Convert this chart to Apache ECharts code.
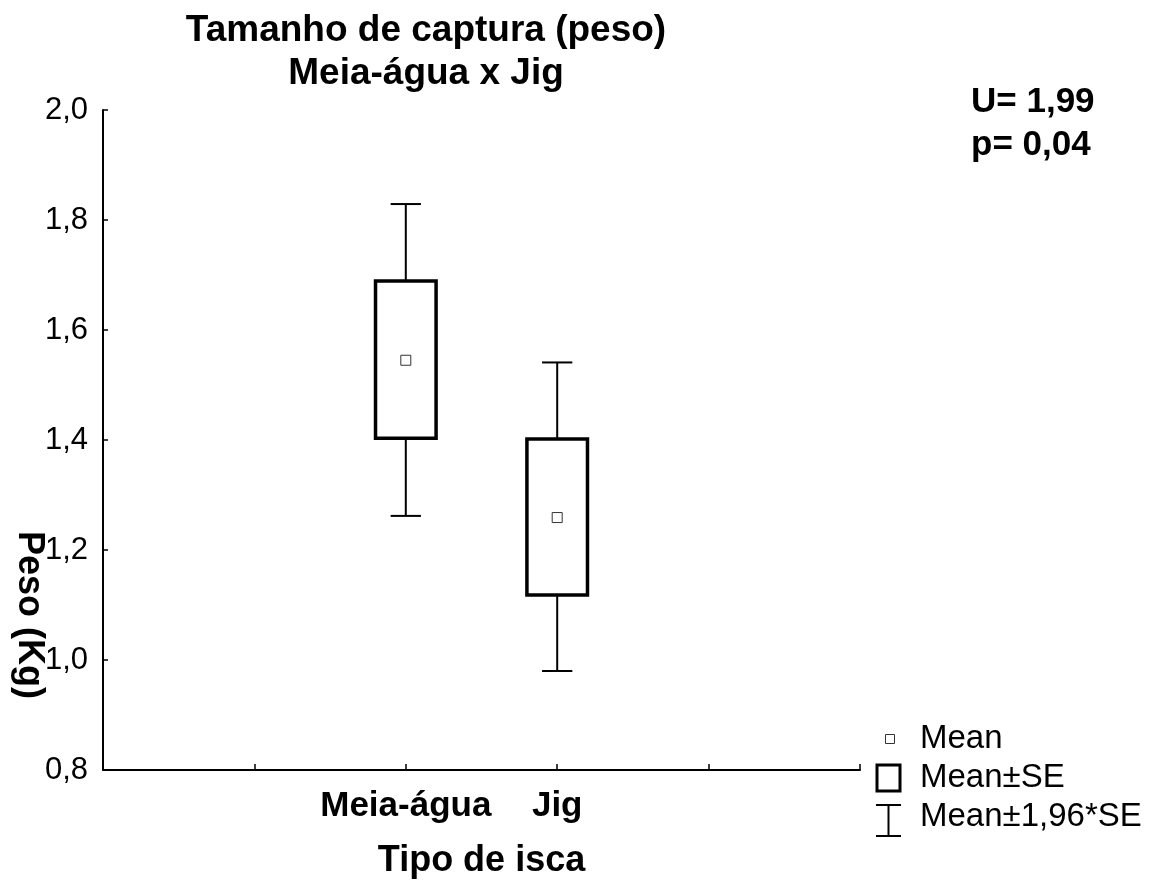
<!DOCTYPE html>
<html>
<head>
<meta charset="utf-8">
<script src="https://cdn.jsdelivr.net/npm/echarts@6/dist/echarts.min.js"></script>
<style>
html,body{margin:0;padding:0;background:#fff;}
#chart{width:1171px;height:882px;}
</style>
</head>
<body>
<div id="chart"></div>
<script>
// ---- data ----
const categories = ['', '', 'Meia-água', 'Jig', '', ''];
const groups = ['Meia-água', 'Jig'];
const means = [1.545, 1.259];
const seLow = [1.403, 1.118];
const seHigh = [1.689, 1.402];
const ciLow = [1.262, 0.980];
const ciHigh = [1.829, 1.541];
const yTicks = [0.8, 1.0, 1.2, 1.4, 1.6, 1.8, 2.0];
const titleText = 'Tamanho de captura (peso)\nMeia-água x Jig';
const statsText = 'U= 1,99\np= 0,04';
const legendNames = ['Mean', 'Mean±SE', 'Mean±1,96*SE'];

const FONT = '"Liberation Sans", Arial, sans-serif';
const chart = echarts.init(document.getElementById('chart'), null, {renderer: 'canvas'});

const boxData = groups.map((g, i) => [g, seLow[i], seHigh[i]]);
const ciData = groups.map((g, i) => [g, ciLow[i], ciHigh[i]]);
const meanData = groups.map((g, i) => [g, means[i]]);

chart.setOption({
  animation: false,
  backgroundColor: '#fff',
  title: {
    text: titleText,
    left: 421,
    textAlign: 'center',
    top: 4,
    textStyle: {fontFamily: FONT, fontSize: 37, fontWeight: 'bold', color: '#000', lineHeight: 43}
  },
  grid: {left: 103, right: 311, top: 110, bottom: 112, containLabel: false, outerBoundsMode: 'none'},
  xAxis: {
    type: 'category',
    data: categories,
    boundaryGap: false,
    axisLine: {lineStyle: {color: '#000', width: 2}},
    axisTick: {inside: true, length: 6, lineStyle: {color: '#000', width: 1.5}, interval: 0},
    axisLabel: {interval: 0, margin: 19, fontFamily: FONT, fontSize: 35, fontWeight: 'bold', color: '#000'},
    splitLine: {show: false},
    name: 'Tipo de isca',
    nameLocation: 'middle',
    nameGap: 73,
    nameTextStyle: {fontFamily: FONT, fontSize: 36, fontWeight: 'bold', color: '#000'}
  },
  yAxis: {
    type: 'value',
    min: yTicks[0],
    max: yTicks[yTicks.length - 1],
    interval: 0.2,
    axisLine: {show: true, lineStyle: {color: '#000', width: 2}},
    axisTick: {show: true, inside: true, length: 5, lineStyle: {color: '#000', width: 1.5}},
    axisLabel: {
      margin: 15,
      fontFamily: FONT, fontSize: 31, color: '#000',
      formatter: v => v.toFixed(1).replace('.', ',')
    },
    splitLine: {show: false}
  },
  graphic: [
    {
      type: 'text', x: 29, y: 615, rotation: -Math.PI / 2,
      style: {text: 'Peso (Kg)', fontFamily: FONT, fontSize: 36, fontWeight: 'bold', fill: '#000', align: 'center', verticalAlign: 'middle'}
    },
    {
      type: 'text', x: 971, y: 81,
      style: {text: statsText, fontFamily: FONT, fontSize: 35, fontWeight: 'bold', fill: '#000', align: 'left', verticalAlign: 'top', lineHeight: 43}
    },
    // legend
    {type: 'rect', shape: {x: 885.5, y: 734.5, width: 9, height: 9}, style: {fill: '#fff', stroke: '#333', lineWidth: 1}},
    {type: 'text', x: 920, y: 739, style: {text: legendNames[0], fontFamily: FONT, fontSize: 33, fill: '#000', align: 'left', verticalAlign: 'middle'}},
    {type: 'rect', shape: {x: 877, y: 765, width: 23, height: 26}, style: {fill: '#fff', stroke: '#000', lineWidth: 3}},
    {type: 'text', x: 920, y: 778, style: {text: legendNames[1], fontFamily: FONT, fontSize: 33, fill: '#000', align: 'left', verticalAlign: 'middle'}},
    {type: 'line', shape: {x1: 876, y1: 805, x2: 901, y2: 805}, style: {stroke: '#000', lineWidth: 2}},
    {type: 'line', shape: {x1: 888.5, y1: 805, x2: 888.5, y2: 836}, style: {stroke: '#000', lineWidth: 2}},
    {type: 'line', shape: {x1: 876, y1: 836, x2: 901, y2: 836}, style: {stroke: '#000', lineWidth: 2}},
    {type: 'text', x: 920, y: 817, style: {text: legendNames[2], fontFamily: FONT, fontSize: 33, fill: '#000', align: 'left', verticalAlign: 'middle'}}
  ],
  series: [
    {
      name: legendNames[2],
      type: 'custom',
      z: 2,
      data: ciData,
      renderItem: function (params, api) {
        const x = api.value(0);
        const lo = api.coord([x, api.value(1)]);
        const hi = api.coord([x, api.value(2)]);
        const bw = api.size([1, 0])[0];
        const half = bw * 0.1;
        const st = {stroke: '#000', lineWidth: 2};
        return {
          type: 'group',
          children: [
            {type: 'line', shape: {x1: lo[0], y1: lo[1], x2: hi[0], y2: hi[1]}, style: st},
            {type: 'line', shape: {x1: hi[0] - half, y1: hi[1], x2: hi[0] + half, y2: hi[1]}, style: st},
            {type: 'line', shape: {x1: lo[0] - half, y1: lo[1], x2: lo[0] + half, y2: lo[1]}, style: st}
          ]
        };
      }
    },
    {
      name: legendNames[1],
      type: 'custom',
      z: 3,
      data: boxData,
      renderItem: function (params, api) {
        const x = api.value(0);
        const lo = api.coord([x, api.value(1)]);
        const hi = api.coord([x, api.value(2)]);
        const bw = api.size([1, 0])[0];
        const half = bw * 0.2;
        return {
          type: 'rect',
          shape: {x: hi[0] - half, y: hi[1], width: half * 2, height: lo[1] - hi[1]},
          style: {fill: '#fff', stroke: '#000', lineWidth: 3.5}
        };
      }
    },
    {
      name: legendNames[0],
      type: 'scatter',
      z: 4,
      data: meanData,
      symbol: 'rect',
      symbolSize: 10,
      itemStyle: {color: '#fff', borderColor: '#333', borderWidth: 1, opacity: 1}
    }
  ]
});
</script>
</body>
</html>
